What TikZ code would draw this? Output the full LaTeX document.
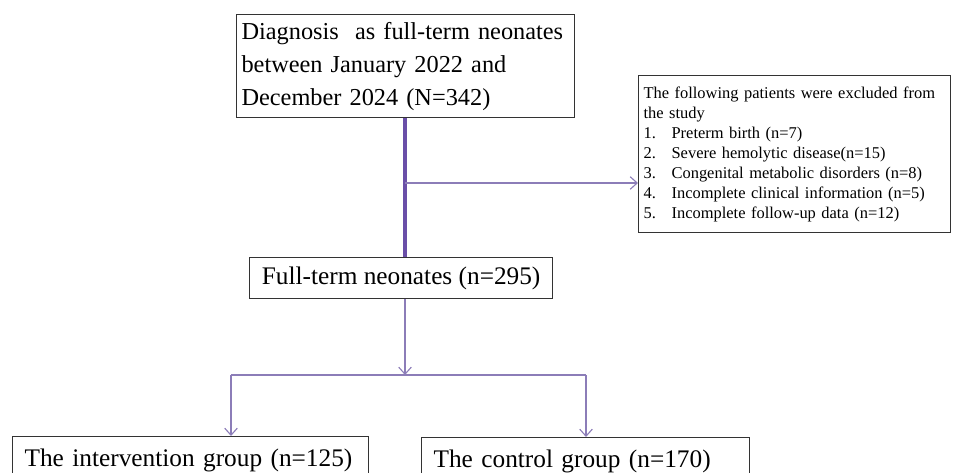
\documentclass[tikz,border=0pt]{standalone}
\usepackage{fontspec}
\setmainfont{Liberation Serif}
\usepackage{tikz}
\usetikzlibrary{arrows.meta}
\definecolor{grape}{HTML}{6A4FA8}
\definecolor{lilac}{HTML}{8C7DB8}
\newcommand{\itm}[1]{\makebox[0.7cm][l]{#1}}
\tikzset{
  box/.style={draw=black!80,line width=0.8pt,inner sep=0pt,font=\fontsize{18}{23.5}\selectfont},
  flow/.style={lilac,line width=0.8pt,-{Straight Barb[length=5pt,width=9pt]}},
}
\begin{document}
\begin{tikzpicture}[x=0.025cm,y=-0.025cm]
\useasboundingbox (0,0) rectangle (953,473);
\clip (0,0) rectangle (953,473);
% boxes
\node[box,anchor=north west,minimum width=8.45cm,minimum height=2.575cm,text width=8.2cm,align=left,font=\fontsize{17.3}{23.5}\selectfont] (all) at (236,14)
  {Diagnosis\ \ as full-term neonates\\ between January 2022 and\\ December 2024 (N=342)};
\node[box,anchor=north west,minimum width=7.8cm,minimum height=3.925cm,text width=7.55cm,align=left,font=\fontsize{11.7}{14.2}\selectfont] (excl) at (638,75)
  {The following patients were excluded from\\
   the study\\
   \itm{1.}Preterm birth (n=7)\\
   \itm{2.}Severe hemolytic\ disease(n=15)\\
   \itm{3.}Congenital metabolic disorders (n=8)\\
   \itm{4.}Incomplete clinical information (n=5)\\
   \itm{5.}Incomplete follow-up data (n=12)};
\node[box,anchor=north west,minimum width=7.575cm,minimum height=1.025cm] (full) at (249,257) {Full-term neonates (n=295)};
\node[box,anchor=north west,minimum width=8.9cm,minimum height=1.2cm,text width=8.3cm,align=left] (inter) at (12,436) {The intervention group (n=125)};
\node[box,anchor=north west,minimum width=8.2cm,minimum height=1.2cm,text width=7.6cm,align=left] (ctrl) at (421,437) {The control group (n=170)};
% connectors
\coordinate (side) at (405,183);
\coordinate (split) at (405,375);
\coordinate (l) at (231,375);
\coordinate (r) at (586,375);
\draw[grape,line width=3.5pt] (all.south -| side) -- (full.north -| side);
\draw[flow] (side) -- (side -| excl.west);
\draw[flow] (full.south -| split) -- (split);
\draw[lilac,line width=0.8pt] (l) -- (r);
\draw[flow] (l) -- (l |- inter.north);
\draw[flow] (r) -- (r |- ctrl.north);
\end{tikzpicture}
\end{document}
